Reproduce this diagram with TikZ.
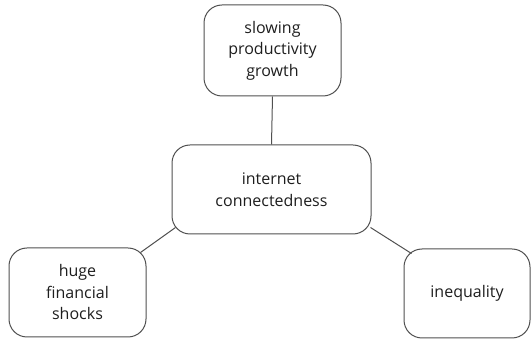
\documentclass[tikz,border=0pt]{standalone}
\usepackage{fontspec}
\setmainfont{Open Sans}
\usetikzlibrary{calc}
\definecolor{edge}{HTML}{505050}
\definecolor{ink}{HTML}{1E1E1E}
\begin{document}
\begin{tikzpicture}[x=1pt,y=1pt,
  box/.style={draw=edge, line width=1pt, rounded corners=18pt, align=center,
    text=ink, font=\fontsize{16}{21.5}\selectfont, inner sep=0pt},
  link/.style={draw=edge, line width=1pt}]
  \useasboundingbox (0,0) rectangle (531,340);
  % concept boxes
  \node[box, minimum width=137pt, minimum height=91pt] (top) at (272.5,289.5)
    {slowing\\productivity\\growth};
  \node[box, minimum width=199pt, minimum height=89pt] (mid) at (271.5,150.5)
    {internet\\connectedness};
  \node[box, minimum width=137pt, minimum height=89pt] (left) at (77.5,47.5)
    {huge\\financial\\shocks};
  \node[box, minimum width=126pt, minimum height=89pt] (right) at (467,46.5)
    {inequality};
  % connectors
  \draw[link] (top.south) -- (mid.north);
  \draw[link] ($(mid.south west)+(4,7)$) -- ($(left.north east)+(-6,-5)$);
  \draw[link] ($(mid.south east)+(-1,7)$) -- ($(right.north west)+(8,-5)$);
\end{tikzpicture}
\end{document}
